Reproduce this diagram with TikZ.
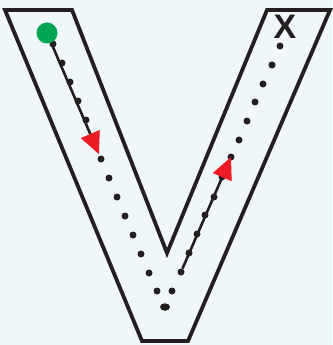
\documentclass[tikz,border=0pt]{standalone}
\usetikzlibrary{arrows.meta,shapes.geometric}
\usepackage{fontspec}
\setmainfont{Liberation Sans}
\definecolor{bg}{HTML}{F0F7FB}
\definecolor{ink}{HTML}{231F20}
\definecolor{arrowred}{HTML}{ED1C24}
\definecolor{startgreen}{HTML}{00A651}
\begin{document}
\begin{tikzpicture}[x=1pt,y=-1pt,
  outline/.style={draw=ink,line width=3.8pt,line join=miter},
  dot/.style={circle,fill=ink,inner sep=0pt,minimum size=7pt},
  route/.style={draw=ink,line width=2.6pt,shorten >=1.5pt,
    -{Triangle[length=22pt,width=20pt,color=arrowred,fill=arrowred]}},
  startdot/.style={circle,fill=startgreen,inner sep=0pt,minimum size=21pt},
  endmark/.style={font=\bfseries\fontsize{34}{34}\selectfont,text=ink,inner sep=0pt}]
\fill[bg] (0,0) rectangle (332,345);
\useasboundingbox (0,0) rectangle (332,345);
\draw[outline] (5,10) -- (72,10) -- (167,253) -- (267,10) -- (330,10) -- (188,341) -- (142,341) -- cycle;
% left lane dots
\node[dot] (a1) at (53,44) {};
\node[dot] (a2) at (62,63) {};
\node[dot] (a3) at (70,82) {};
\node[dot] (a4) at (78,101) {};
\node[dot] (a5) at (86,120) {};
\node[dot] (a6) at (101,159) {};
\node[dot] (a7) at (109,178) {};
\node[dot] (a8) at (117,197) {};
\node[dot] (a9) at (125,216) {};
\node[dot] (a10) at (133,235) {};
\node[dot] (a11) at (141,254) {};
\node[dot] (a12) at (149,273) {};
\node[dot] (a13) at (157,291) {};
\node[ellipse,fill=ink,inner sep=0pt,minimum width=10pt,minimum height=7.5pt] (bt) at (165,307) {};
\node[dot] (b1) at (172,291) {};
% right lane dots
\node[dot] (c1) at (181,272) {};
\node[dot] (c2) at (189,253) {};
\node[dot] (c3) at (197,234) {};
\node[dot] (c4) at (205,215) {};
\node[dot] (c5) at (214,197) {};
\node[dot] (c6) at (222,177) {};
\node[dot] (c7) at (231,157) {};
\node[dot] (c8) at (239,140) {};
\node[dot] (c9) at (247,121) {};
\node[dot] (c10) at (255,102) {};
\node[dot] (c11) at (263,84) {};
\node[dot] (c12) at (272,65) {};
\node[dot] (c13) at (280,46) {};
% start and end
\node[startdot] (start) at (47,33) {};
\node[endmark] (finish) at (285,27) {X};
% arrows
\draw[route] (start) -- (a6);
\draw[route,shorten >=0pt] (c1) -- (c7.center);
\end{tikzpicture}
\end{document}
